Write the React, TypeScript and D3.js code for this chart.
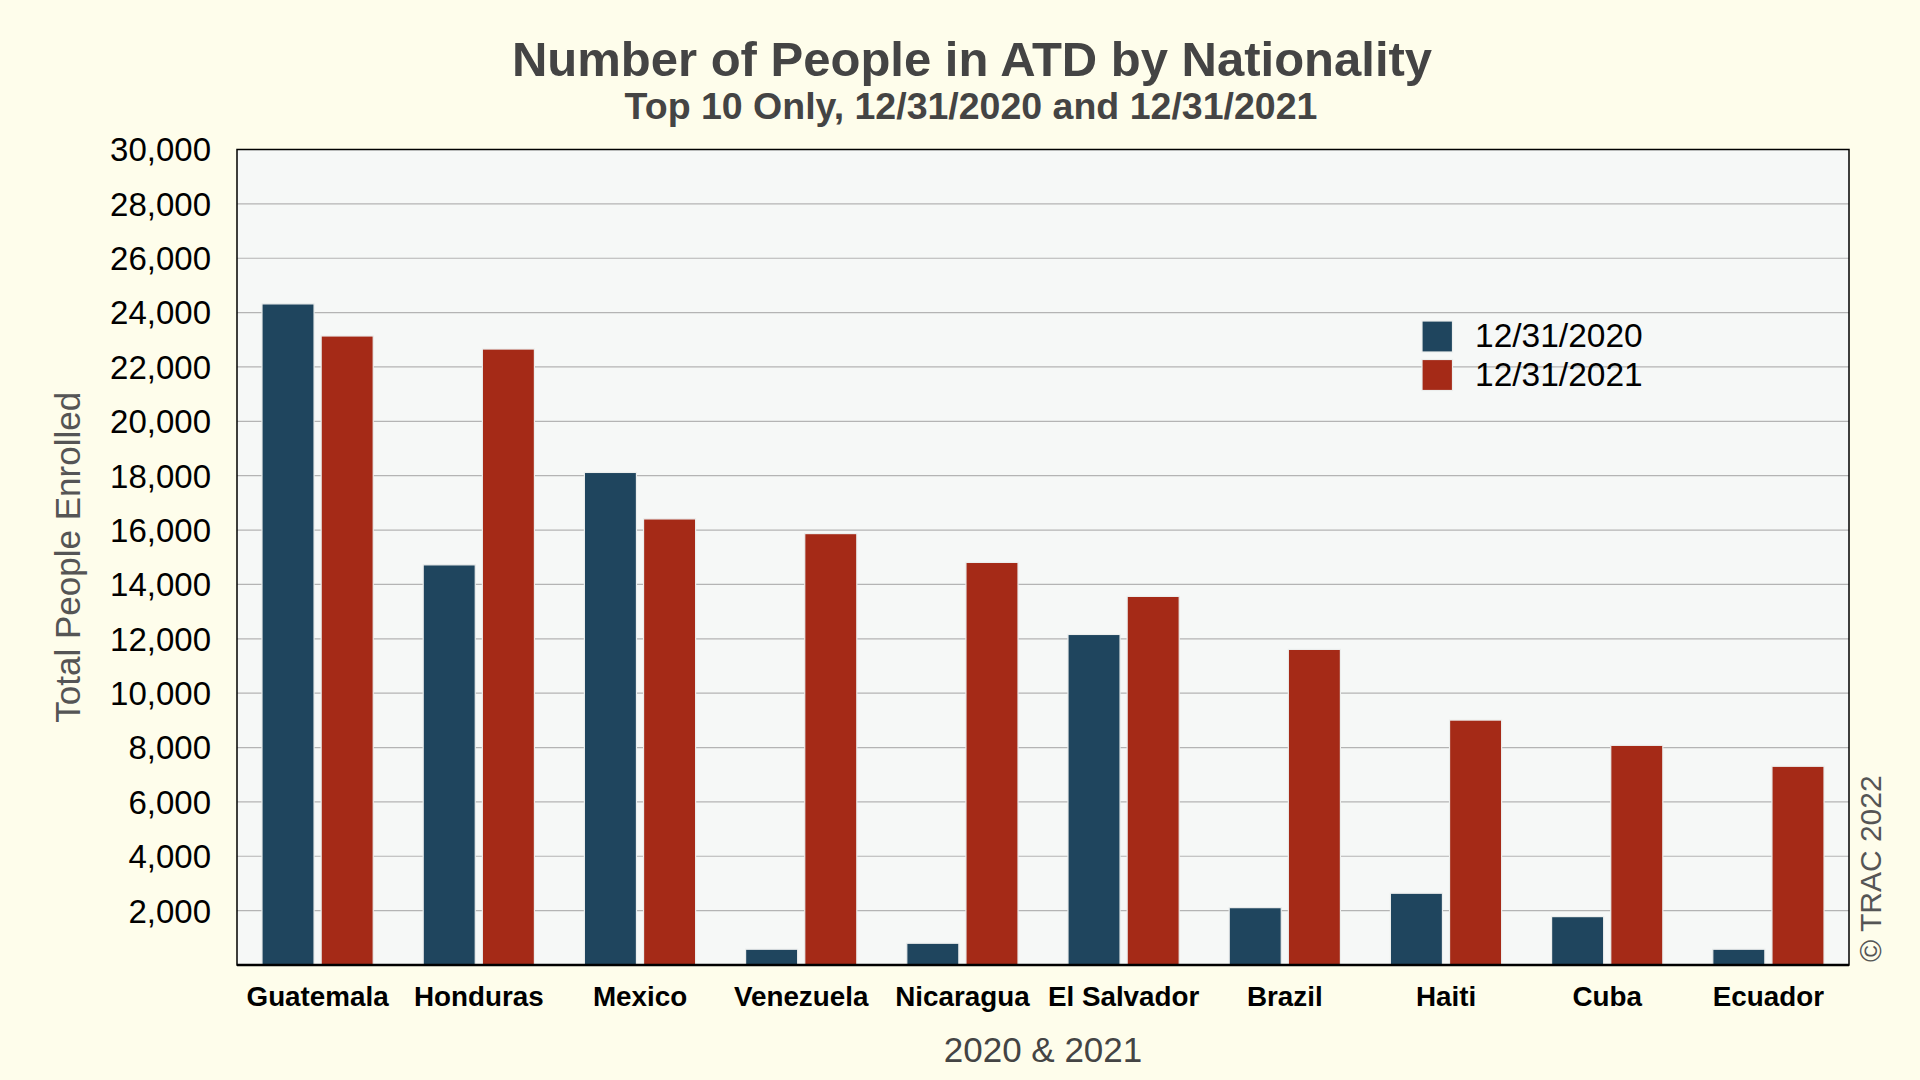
import React, { useEffect } from "react";
import * as d3 from "d3";

const categories = ["Guatemala", "Honduras", "Mexico", "Venezuela", "Nicaragua", "El Salvador", "Brazil", "Haiti", "Cuba", "Ecuador"];
const series2020 = [24320, 14720, 18120, 580, 800, 12160, 2110, 2640, 1780, 580];
const series2021 = [23140, 22660, 16410, 15870, 14810, 13560, 11610, 9010, 8080, 7310];
const seriesNames = ["12/31/2020", "12/31/2021"];
const seriesColors = ["#1f455e", "#a52a17"];
const yTicks = [2000, 4000, 6000, 8000, 10000, 12000, 14000, 16000, 18000, 20000, 22000, 24000, 26000, 28000, 30000];

const W = 1920, H = 1080;
const L = 237, R = 1849, T = 149.5, B = 965;
const FONT = "'Liberation Sans', Arial, Helvetica, sans-serif";

export default function App() {
  useEffect(() => {
    document.body.style.margin = "0";
  }, []);
  const y = d3.scaleLinear().domain([0, 30000]).range([B, T]);
  const x = d3.scaleBand<string>().domain(categories).range([L, R]).paddingInner(0.31).paddingOuter(0.155);
  const xi = d3.scaleBand<number>().domain([0, 1]).range([0, x.bandwidth()]).paddingInner(0.12);
  const fmt = d3.format(",");
  const data = [series2020, series2021];
  return (
    <svg width={W} height={H} style={{ position: "absolute", left: 0, top: 0, display: "block" }} fontFamily={FONT}>
      <rect x={0} y={0} width={W} height={H} fill="#fefdeb" />
      <text x={972} y={76} textAnchor="middle" fontSize={49} fontWeight="bold" fill="#444444">Number of People in ATD by Nationality</text>
      <text x={971} y={119} textAnchor="middle" fontSize={37.5} fontWeight="bold" fill="#444444">Top 10 Only, 12/31/2020 and 12/31/2021</text>
      <rect x={L} y={T} width={R - L} height={B - T} fill="#f6f8f7" />
      {yTicks.filter(t => t < 30000).map(t => (
        <line key={t} x1={L} x2={R} y1={y(t)} y2={y(t)} stroke="#b4b4b4" strokeWidth={1.2} />
      ))}
      {yTicks.map(t => (
        <text key={t} x={211} y={y(t)} dy="0.36em" textAnchor="end" fontSize={33} fill="#000">{fmt(t)}</text>
      ))}
      {categories.map((c, i) => (
        <g key={c} transform={`translate(${x(c)},0)`}>
          {data.map((s, k) => (
            <rect key={k} x={xi(k)} y={y(s[i])} width={xi.bandwidth()} height={y(0) - y(s[i])}
              fill={seriesColors[k]} stroke="#eceeed" strokeWidth={1.2} />
          ))}
        </g>
      ))}
      <rect x={L} y={T} width={R - L} height={B - T} fill="none" stroke="#000" strokeWidth={1.5} />
      <line x1={L} x2={R} y1={B} y2={B} stroke="#000" strokeWidth={2.5} />
      {categories.map(c => (
        <text key={c} x={(x(c) as number) + x.bandwidth() / 2} y={1006} textAnchor="middle" fontSize={27.8} fontWeight="bold" fill="#000">{c}</text>
      ))}
      <text x={(L + R) / 2} y={1062} textAnchor="middle" fontSize={35} fill="#444444">2020 &amp; 2021</text>
      <text transform={`translate(80,${(T + B) / 2}) rotate(-90)`} textAnchor="middle" fontSize={35} fill="#555555">Total People Enrolled</text>
      <text transform={`translate(1881,962) rotate(-90)`} textAnchor="start" fontSize={30} fill="#555555">© TRAC 2022</text>
      {seriesNames.map((n, k) => (
        <g key={n}>
          <rect x={1422} y={321 + k * 38.5} width={30.5} height={31} fill={seriesColors[k]} stroke="#eceeed" strokeWidth={1.2} />
          <text x={1475} y={347 + k * 39} fontSize={33.5} fill="#000">{n}</text>
        </g>
      ))}
    </svg>
  );
}
